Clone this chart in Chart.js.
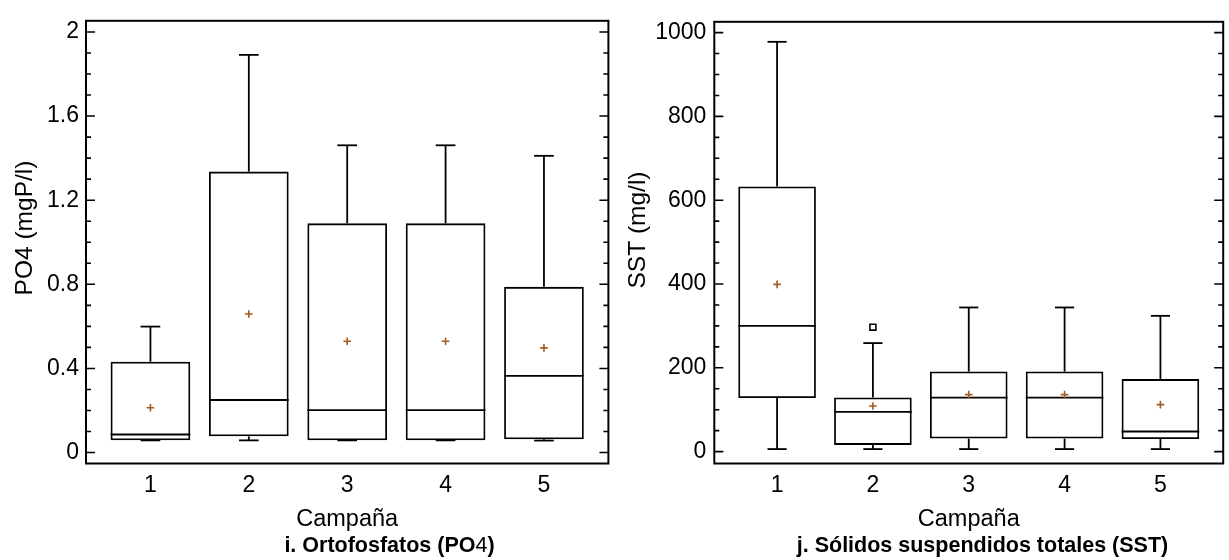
<!DOCTYPE html>
<html lang="es">
<head>
  <meta charset="UTF-8" />
  <title>PO4 y SST por campaña</title>
  <script src="https://cdn.jsdelivr.net/npm/chart.js@4"></script>
  <style>
    html, body { margin: 0; padding: 0; background: #fff; }
    #wrap { position: relative; width: 1229px; height: 560px; }
    #po4Chart { position: absolute; left: 0; top: 0; }
    #sstChart { position: absolute; left: 614px; top: 0; }
  </style>
</head>
<body>
  <div id="wrap">
    <canvas id="po4Chart" width="614" height="560"></canvas>
    <canvas id="sstChart" width="615" height="560"></canvas>
  </div>

  <script>
    const campanas = [1, 2, 3, 4, 5];

    // i. Ortofosfatos (mgP/l)
    const po4Min    = [0.058, 0.058, 0.058, 0.058, 0.057];
    const po4Q1     = [0.058, 0.077, 0.058, 0.058, 0.063];
    const po4Median = [0.086, 0.250, 0.202, 0.202, 0.365];
    const po4Q3     = [0.432, 1.336, 1.090, 1.090, 0.788];
    const po4Max    = [0.599, 1.891, 1.461, 1.461, 1.411];
    const po4Mean   = [0.213, 0.659, 0.529, 0.529, 0.498];
    const po4Outliers = [];
    const po4TickLabels = [0, 0.4, 0.8, 1.2, 1.6, 2];

    // j. Sólidos suspendidos totales (mg/l)
    const sstMin    = [6, 6, 6, 6, 6];
    const sstQ1     = [128, 16, 31, 31, 30];
    const sstMedian = [300, 95, 129, 129, 48];
    const sstQ3     = [633, 129, 191, 191, 173];
    const sstMax    = [978, 259, 344, 344, 324];
    const sstMean   = [399, 109, 136, 136, 112];
    const sstOutliers = [[2, 297]];
    const sstTickLabels = [0, 200, 400, 600, 800, 1000];

    const FONT = "'Liberation Sans', Arial, sans-serif";
    const MEAN_COLOR = '#a65a1e';
    Chart.defaults.font.family = FONT;
    Chart.defaults.color = '#000';

    // minor tick values between the first and last labelled tick
    function minorTicks(labels, step) {
      const out = [];
      const last = labels[labels.length - 1];
      for (let k = 0; labels[0] + k * step <= last + step / 1000; k++) {
        out.push(Math.round((labels[0] + k * step) * 1e6) / 1e6);
      }
      return out;
    }

    // whiskers, caps and median lines
    const whiskers = {
      id: 'whiskers',
      beforeDatasetsDraw(chart, args, o) {
        const { ctx, scales: { x, y } } = chart;
        const barIdx = chart.data.datasets.findIndex(d => d.type === 'bar');
        const bars = chart.getDatasetMeta(barIdx).data;
        const line = (x0, y0, x1, y1) => {
          ctx.beginPath();
          ctx.moveTo(x0, y0);
          ctx.lineTo(x1, y1);
          ctx.stroke();
        };
        ctx.save();
        ctx.strokeStyle = '#000';
        ctx.lineWidth = 1.8;
        campanas.forEach((c, i) => {
          const cx = x.getPixelForValue(c);
          const cl = x.getPixelForValue(c - o.cap / 2);
          const cr = x.getPixelForValue(c + o.cap / 2);
          const yMax = y.getPixelForValue(o.max[i]);
          const yMin = y.getPixelForValue(o.min[i]);
          line(cx, y.getPixelForValue(o.q3[i]), cx, yMax);
          line(cl, yMax, cr, yMax);
          line(cx, y.getPixelForValue(o.q1[i]), cx, yMin);
          line(cl, yMin, cr, yMin);
          const b = bars[i];
          const ym = y.getPixelForValue(o.median[i]);
          line(b.x - b.width / 2, ym, b.x + b.width / 2, ym);
        });
        ctx.restore();
      }
    };

    // plot frame with inward tick marks on both vertical sides
    const frameTicks = {
      id: 'frameTicks',
      afterDraw(chart, args, o) {
        const { ctx, chartArea: a, scales: { y } } = chart;
        ctx.save();
        ctx.strokeStyle = '#000';
        ctx.lineWidth = 1.6;
        y.ticks.forEach(t => {
          const py = y.getPixelForValue(t.value);
          const len = o.major.includes(t.value) ? 9 : 5;
          ctx.beginPath();
          ctx.moveTo(a.left, py);
          ctx.lineTo(a.left + len, py);
          ctx.moveTo(a.right, py);
          ctx.lineTo(a.right - len, py);
          ctx.stroke();
        });
        ctx.lineWidth = 2;
        ctx.strokeRect(a.left, a.top, a.right - a.left, a.bottom - a.top);
        ctx.restore();
      }
    };

    // rotated y-axis title and the bold caption under each panel
    const labels = {
      id: 'labels',
      afterDraw(chart, args, o) {
        const ctx = chart.ctx;
        ctx.save();
        ctx.fillStyle = '#000';

        ctx.save();
        ctx.translate(o.yTitle.x, o.yTitle.y);
        ctx.rotate(-Math.PI / 2);
        ctx.font = o.yTitle.size + 'px ' + FONT;
        ctx.textAlign = 'center';
        ctx.textBaseline = 'middle';
        ctx.fillText(o.yTitle.text, 0, 0);
        ctx.restore();

        const cap = o.caption;
        ctx.textBaseline = 'alphabetic';
        ctx.textAlign = 'left';
        const fonts = cap.parts.map(p => (p.bold ? 'bold ' : '') + cap.size + 'px ' + FONT);
        const widths = cap.parts.map((p, i) => { ctx.font = fonts[i]; return ctx.measureText(p.text).width; });
        let px = cap.x - widths.reduce((s, w) => s + w, 0) / 2;
        cap.parts.forEach((p, i) => {
          ctx.font = fonts[i];
          ctx.fillText(p.text, px, cap.y);
          px += widths[i];
        });
        ctx.restore();
      }
    };

    function boxChart(id, cfg) {
      const boxes = campanas.map((c, i) => ({ x: c, y: [cfg.q1[i], cfg.q3[i]] }));
      const means = campanas.map((c, i) => ({ x: c, y: cfg.mean[i] }));
      const outs = cfg.outliers.map(p => ({ x: p[0], y: p[1] }));
      const minor = minorTicks(cfg.tickLabels, cfg.minorStep);

      return new Chart(document.getElementById(id), {
        type: 'bar',
        data: {
          datasets: [
            { type: 'scatter', data: means, pointStyle: 'cross', pointRadius: 3.8,
              borderColor: MEAN_COLOR, borderWidth: 1.6, order: 1 },
            { type: 'scatter', data: outs, pointStyle: 'rect', pointRadius: 4.2,
              borderColor: '#000', backgroundColor: '#fff', borderWidth: 1.6, order: 1 },
            { type: 'bar', data: boxes, backgroundColor: 'rgba(0,0,0,0)', borderColor: '#000',
              borderWidth: 1.8, borderSkipped: false, barPercentage: 0.81,
              categoryPercentage: 1, order: 2 }
          ]
        },
        plugins: [whiskers, frameTicks, labels],
        options: {
          responsive: false,
          animation: false,
          events: [],
          layout: { padding: cfg.padding },
          plugins: {
            legend: { display: false },
            tooltip: { enabled: false },
            whiskers: { min: cfg.min, q1: cfg.q1, median: cfg.median, q3: cfg.q3, max: cfg.max, cap: 0.2 },
            frameTicks: { major: cfg.tickLabels },
            labels: { yTitle: cfg.yTitle, caption: cfg.caption }
          },
          scales: {
            x: {
              type: 'linear', min: 0.345, max: 5.655, bounds: 'data', offset: false,
              grid: { display: false, drawTicks: false, offset: false }, border: { display: false },
              afterBuildTicks: s => { s.ticks = campanas.map(v => ({ value: v })); },
              afterFit: s => { s.height = 96.5; },
              ticks: { autoSkip: false, maxRotation: 0, padding: 8, color: '#000', font: { size: 23 } },
              title: { display: true, text: 'Campaña', color: '#000', font: { size: 23.5 },
                       padding: { top: 0, bottom: 26 } }
            },
            y: {
              min: cfg.yMin, max: cfg.yMax, bounds: 'data',
              grid: { display: false, drawTicks: false }, border: { display: false },
              afterBuildTicks: s => { s.ticks = minor.map(v => ({ value: v })); },
              afterFit: s => { s.width = cfg.yWidth; },
              ticks: { autoSkip: false, padding: cfg.tickPad, color: '#000', font: { size: 23 },
                       callback: v => cfg.tickLabels.includes(v) ? String(v) : '' }
            }
          }
        }
      });
    }

    boxChart('po4Chart', {
      min: po4Min, q1: po4Q1, median: po4Median, q3: po4Q3, max: po4Max, mean: po4Mean,
      outliers: po4Outliers, tickLabels: po4TickLabels, minorStep: 0.1,
      yMin: -0.052, yMax: 2.053, yWidth: 86, tickPad: 7,
      padding: { left: 0, right: 5, top: 12, bottom: 0 },
      yTitle: { text: 'PO4 (mgP/l)', x: 25, y: 228, size: 24.5 },
      caption: { x: 389.5, y: 552, size: 21.5, parts: [
        { text: 'i. Ortofosfatos (PO', bold: true },
        { text: '4', bold: false },
        { text: ')', bold: true }
      ] }
    });

    boxChart('sstChart', {
      min: sstMin, q1: sstQ1, median: sstMedian, q3: sstQ3, max: sstMax, mean: sstMean,
      outliers: sstOutliers, tickLabels: sstTickLabels, minorStep: 50,
      yMin: -28.4, yMax: 1025.8, yWidth: 100.3, tickPad: 8,
      padding: { left: 0, right: 3, top: 10, bottom: 0 },
      yTitle: { text: 'SST (mg/l)', x: 24, y: 230, size: 24.5 },
      caption: { x: 368.5, y: 552, size: 21.5, parts: [
        { text: 'j. Sólidos suspendidos totales (SST)', bold: true }
      ] }
    });
  </script>
</body>
</html>
